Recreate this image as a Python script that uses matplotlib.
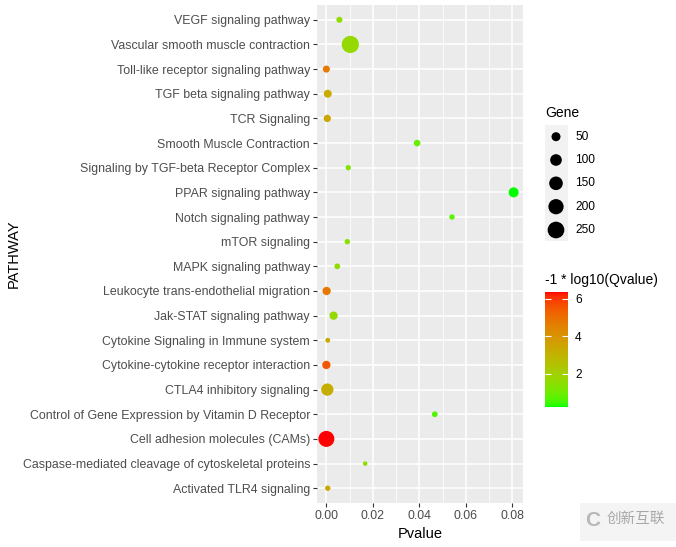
import numpy as np
import matplotlib
matplotlib.use("Agg")
import matplotlib.pyplot as plt
from matplotlib.colors import ListedColormap, Normalize
from matplotlib.patches import Rectangle

plt.rcParams['font.family'] = ['Liberation Sans', 'DejaVu Sans']

# data, bottom row first (ggplot puts the first level at the bottom)
pathways = [
    "Activated TLR4 signaling",
    "Caspase-mediated cleavage of cytoskeletal proteins",
    "Cell adhesion molecules (CAMs)",
    "Control of Gene Expression by Vitamin D Receptor",
    "CTLA4 inhibitory signaling",
    "Cytokine-cytokine receptor interaction",
    "Cytokine Signaling in Immune system",
    "Jak-STAT signaling pathway",
    "Leukocyte trans-endothelial migration",
    "MAPK signaling pathway",
    "mTOR signaling",
    "Notch signaling pathway",
    "PPAR signaling pathway",
    "Signaling by TGF-beta Receptor Complex",
    "Smooth Muscle Contraction",
    "TCR Signaling",
    "TGF beta signaling pathway",
    "Toll-like receptor signaling pathway",
    "Vascular smooth muscle contraction",
    "VEGF signaling pathway",
]
pvalue = [0.0006, 0.0167, 0.0000, 0.0466, 0.0004, 0.0000, 0.0006, 0.0031, 0.0001, 0.0047,
          0.0090, 0.0540, 0.0805, 0.0094, 0.0390, 0.0004, 0.0006, 0.0000, 0.0103, 0.0056]
gene = [14, 11, 226, 16, 115, 40, 12, 40, 40, 16,
        14, 14, 67, 14, 22, 28, 36, 26, 270, 18]
qlog = [3.4, 1.5, 6.35, 0.6, 3.2, 5.5, 3.3, 1.7, 4.8, 1.5,
        1.4, 0.7, 0.22, 1.3, 0.9, 3.4, 3.3, 4.7, 1.7, 1.6]

gene_breaks = [50, 100, 150, 200, 250]
q_breaks = [2, 4, 6]

W, H = 676, 547


# green -> red gradient interpolated in Lab, like scale_colour_gradient
def srgb_to_lab(rgb):
    c = np.asarray(rgb, float)
    lin = np.where(c <= 0.04045, c / 12.92, ((c + 0.055) / 1.055) ** 2.4)
    M = np.array([[0.4124, 0.3576, 0.1805],
                  [0.2126, 0.7152, 0.0722],
                  [0.0193, 0.1192, 0.9505]])
    xyz = M @ lin / np.array([0.95047, 1.0, 1.08883])
    f = np.where(xyz > 0.008856, np.cbrt(xyz), 7.787 * xyz + 16 / 116)
    return np.array([116 * f[1] - 16, 500 * (f[0] - f[1]), 200 * (f[1] - f[2])])


def lab_to_srgb(lab):
    L, a, b = lab
    fy = (L + 16) / 116
    fx = fy + a / 500
    fz = fy - b / 200
    f = np.array([fx, fy, fz])
    xyz = np.where(f ** 3 > 0.008856, f ** 3, (f - 16 / 116) / 7.787)
    xyz = xyz * np.array([0.95047, 1.0, 1.08883])
    Minv = np.array([[3.2406, -1.5372, -0.4986],
                     [-0.9689, 1.8758, 0.0415],
                     [0.0557, -0.2040, 1.0570]])
    lin = Minv @ xyz
    c = np.where(lin <= 0.0031308, 12.92 * lin, 1.055 * np.clip(lin, 0, None) ** (1 / 2.4) - 0.055)
    return np.clip(c, 0, 1)


lo = srgb_to_lab([0, 1, 0])
hi = srgb_to_lab([1, 0, 0])
cols = [lab_to_srgb(lo + (hi - lo) * t) for t in np.linspace(0, 1, 256)]
cmap = ListedColormap(cols)
norm = Normalize(min(qlog), max(qlog))


# area scale (ggplot scale_size, sqrt of rescaled value)
gmin, gmax = 10, 270


def diam_px(g):
    g = np.asarray(g, float)
    return 3.7 + 13.5 * np.sqrt(np.clip((g - gmin) / (gmax - gmin), 0, 1))


def area_pt(g):
    return (diam_px(g) * 72 / 100) ** 2


fig = plt.figure(figsize=(W / 100, H / 100), dpi=100)

# main panel
px0, px1, py0, py1 = 317, 523, 5, 503
ax = fig.add_axes([px0 / W, 1 - py1 / H, (px1 - px0) / W, (py1 - py0) / H])
ax.set_facecolor('#EBEBEB')
ypos = np.arange(len(pathways))
ax.scatter(pvalue, ypos, s=area_pt(gene), c=qlog, cmap=cmap, norm=norm,
           linewidths=0, zorder=3)

xr = max(pvalue) - min(pvalue)
ax.set_xlim(min(pvalue) - 0.05 * xr, max(pvalue) + 0.05 * xr)
ax.set_ylim(-0.6, len(pathways) - 0.4)
ax.set_xticks([0, 0.02, 0.04, 0.06, 0.08])
ax.set_xticklabels(['0.00', '0.02', '0.04', '0.06', '0.08'])
ax.set_xticks([0.01, 0.03, 0.05, 0.07], minor=True)
ax.set_yticks(ypos)
ax.set_yticklabels(pathways)
ax.grid(True, which='major', color='white', lw=1.1, zorder=1)
ax.grid(True, which='minor', axis='x', color='white', lw=0.55, zorder=1)
for s in ax.spines.values():
    s.set_visible(False)
ax.tick_params(which='major', length=3, width=0.8, color='#333333',
               labelcolor='#4D4D4D', labelsize=8.9, pad=2)
ax.tick_params(which='minor', length=0)
ax.set_xlabel('Pvalue', fontsize=10.5, labelpad=4)

# legends drawn in pixel space
lg = fig.add_axes([0, 0, 1, 1], zorder=5)
lg.set_xlim(0, W)
lg.set_ylim(H, 0)
lg.axis('off')

lg.text(14, (py0 + py1) / 2, 'PATHWAY', fontsize=10.5, rotation=90,
        va='center', ha='center')

lg.text(545, 113, 'Gene', fontsize=10, va='center', ha='left')
key_y = [136.7, 160, 183.3, 206.7, 230]
lg.add_patch(Rectangle((545, 125), 23, 116, facecolor='#F2F2F2', edgecolor='none'))
lg.scatter([556] * len(gene_breaks), key_y, s=area_pt(gene_breaks), color='black',
           linewidths=0)
for y, b in zip(key_y, gene_breaks):
    lg.text(575, y, str(b), fontsize=8.6, va='center', ha='left')

lg.text(545, 280, '-1 * log10(Qvalue)', fontsize=10, va='center', ha='left')

# colour bar
cb_x0, cb_x1, cb_y0, cb_y1 = 545, 568, 292, 407
cax = fig.add_axes([cb_x0 / W, 1 - cb_y1 / H, (cb_x1 - cb_x0) / W, (cb_y1 - cb_y0) / H])
grad = np.linspace(norm.vmin, norm.vmax, 256).reshape(-1, 1)
cax.imshow(grad, cmap=cmap, norm=norm, aspect='auto', origin='lower',
           extent=[0, 1, norm.vmin, norm.vmax])
cax.set_xlim(0, 1)
cax.set_xticks([])
cax.set_yticks(q_breaks)
cax.yaxis.tick_right()
cax.tick_params(axis='y', direction='in', length=4, width=0.8, color='white',
                labelsize=8.6, pad=5, left=True)
for s in cax.spines.values():
    s.set_visible(False)

# watermark
lg.add_patch(Rectangle((580, 503), 96, 38, facecolor='#F4F4F4', edgecolor='none'))
lg.text(585, 521, 'C', fontsize=15, color='#B8B8B8', va='center', ha='left',
        fontweight='bold')
lg.text(607, 519, '创新互联', fontsize=10.5, color='#A8A8A8', va='center', ha='left',
        family=['Noto Sans CJK SC', 'DejaVu Sans'])

fig.savefig('out.png', dpi=100)
